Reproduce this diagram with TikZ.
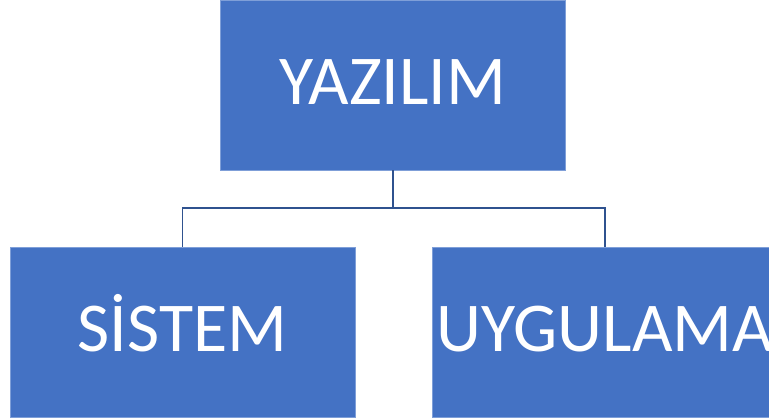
\documentclass[tikz,border=0pt]{standalone}
\usepackage{fontspec}
\setmainfont{Carlito}
\usetikzlibrary{positioning}
\definecolor{boxblue}{HTML}{4472C4}
\definecolor{boxedge}{HTML}{7F9FD8}
\definecolor{linkblue}{HTML}{2F528F}
\tikzstyle{kutu}=[rectangle,fill=boxblue,draw=boxedge,line width=0.8pt,minimum width=345pt,minimum height=170pt,inner sep=0pt,text height=44pt,text depth=4pt,text=white,font=\fontsize{70}{84}\selectfont]
\begin{document}
\begin{tikzpicture}[x=1pt,y=-1pt]
\useasboundingbox (0,0) rectangle (769,419);
\clip (0,0) rectangle (769,419);
\node[kutu] (A) at (393,85) {YAZILIM};
\node[kutu] (B) at (182.5,332) {SİSTEM};
\node[kutu] (C) at (605,332) {UYGULAMA};
\coordinate (J) at (393,208);
\path[draw=linkblue,line width=1.8pt]
(A.south) -- (J) -| (B.north)
(J) -| (C.north);
\end{tikzpicture}
\end{document}
